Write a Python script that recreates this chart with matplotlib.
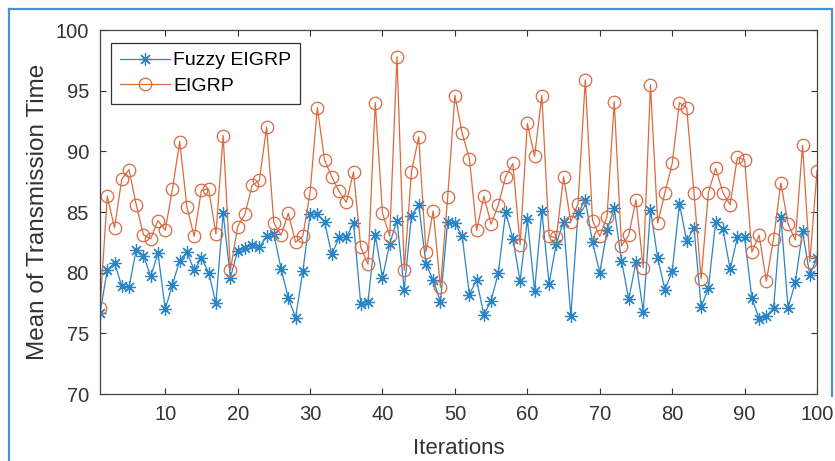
import matplotlib
matplotlib.use("Agg")
import matplotlib.pyplot as plt
from matplotlib.lines import Line2D

# Iterations 1..100
iterations = list(range(1, 101))

fuzzy_eigrp = [
    76.7, 80.2, 80.8, 78.9, 78.8, 81.9, 81.4, 79.7, 81.6, 77.0,
    79.0, 81.0, 81.7, 80.2, 81.2, 80.0, 77.5, 84.9, 79.6, 81.8,
    82.0, 82.3, 82.1, 83.0, 83.2, 80.3, 77.9, 76.3, 80.1, 84.8,
    84.8, 84.2, 81.5, 82.9, 82.9, 84.1, 77.4, 77.6, 83.1, 79.6,
    82.4, 84.3, 78.6, 84.7, 85.6, 80.7, 79.4, 77.6, 84.2, 84.1,
    83.0, 78.2, 79.4, 76.5, 77.7, 80.0, 85.0, 82.8, 79.3, 84.4,
    78.5, 85.1, 79.1, 82.4, 84.2, 76.4, 84.9, 86.0, 82.5, 80.0,
    83.5, 85.3, 81.0, 77.8, 80.9, 76.8, 85.2, 81.2, 78.6, 80.1,
    85.7, 82.6, 83.7, 77.2, 78.7, 84.2, 83.6, 80.3, 82.9, 82.9,
    77.9, 76.2, 76.4, 77.1, 84.6, 77.1, 79.2, 83.4, 79.8, 81.2,
]

eigrp = [
    77.1, 86.3, 83.7, 87.7, 88.5, 85.6, 83.1, 82.8, 84.3, 83.5,
    86.9, 90.8, 85.4, 83.0, 86.8, 86.9, 83.2, 91.3, 80.2, 83.8,
    84.8, 87.2, 87.6, 92.0, 84.1, 83.1, 84.9, 82.5, 83.0, 86.6,
    93.6, 89.3, 87.9, 86.7, 85.8, 88.3, 82.1, 80.7, 94.0, 84.9,
    83.0, 97.8, 80.2, 88.3, 91.2, 81.7, 85.1, 78.8, 86.2, 94.6,
    91.5, 89.4, 83.5, 86.3, 84.0, 85.6, 87.9, 89.0, 82.3, 92.3,
    89.6, 94.6, 83.0, 82.9, 87.9, 84.2, 85.7, 95.9, 84.3, 83.0,
    84.6, 94.1, 82.2, 83.1, 86.0, 80.4, 95.5, 84.1, 86.6, 89.0,
    94.0, 93.6, 86.6, 79.5, 86.6, 88.6, 86.6, 85.6, 89.5, 89.3,
    81.7, 83.1, 79.3, 82.8, 87.4, 84.0, 82.7, 90.5, 80.9, 88.4,
]

plt.rcParams['font.family'] = ['Liberation Sans', 'DejaVu Sans']

fig = plt.figure(figsize=(8.35, 4.61), dpi=100)
ax = fig.add_axes([0.1198, 0.1453, 0.8587, 0.7896])

blue = "#2a84c8"
orange = "#da6a40"

ax.plot(iterations, fuzzy_eigrp, color=blue, lw=0.9, marker=(8, 2, 0),
        markersize=9, markeredgewidth=0.9, label="Fuzzy EIGRP")
ax.plot(iterations, eigrp, color=orange, lw=0.9, marker="o", markersize=9,
        markerfacecolor="none", markeredgewidth=0.9, label="EIGRP")

ax.set_xlim(1, 100)
ax.set_ylim(70, 100)
ax.set_xticks(range(10, 101, 10))
ax.set_yticks(range(70, 101, 5))

ax.tick_params(direction="in", top=True, right=True, length=4.5, width=0.8,
               labelsize=14.5, colors="#333333", pad=8)
for s in ax.spines.values():
    s.set_color("#444444")
    s.set_linewidth(0.9)

ax.set_ylabel("Mean of Transmission Time", fontsize=17.5, color="#333333", labelpad=5)
ax.set_xlabel("Iterations", fontsize=16, color="#333333", labelpad=10)

leg = ax.legend(loc="upper left", bbox_to_anchor=(0.0153, 0.964), borderaxespad=0,
                fancybox=False, edgecolor="#333333", fontsize=14, handlelength=2.6,
                handletextpad=0.15, labelspacing=0.4, borderpad=0.45, framealpha=1)
leg.get_frame().set_linewidth(0.9)

# light blue frame around the picture
bc = "#4a90d9"
fig.add_artist(Line2D([0.0108, 0.0108], [0.0, 0.9805], color=bc, lw=1.6, transform=fig.transFigure))
fig.add_artist(Line2D([0.0108, 0.9964], [0.9805, 0.9805], color=bc, lw=1.6, transform=fig.transFigure))
fig.add_artist(Line2D([0.9964, 0.9964], [0.14, 0.9805], color=bc, lw=1.6, transform=fig.transFigure))

fig.savefig("out.png", dpi=100)
